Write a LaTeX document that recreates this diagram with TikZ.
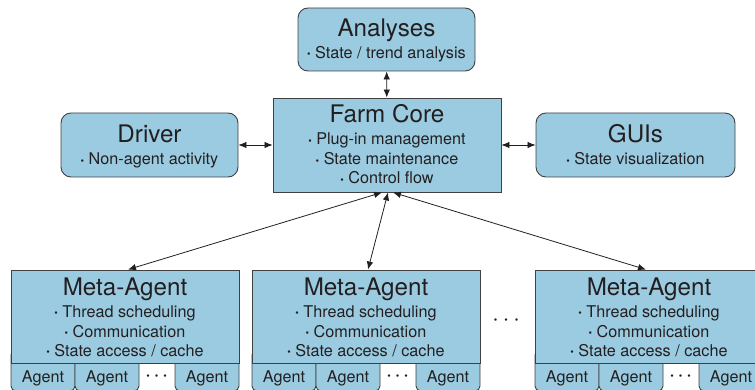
\documentclass[tikz,border=0pt]{standalone}
\usepackage{fontspec}
\setmainfont{TeX Gyre Heros}
\usetikzlibrary{arrows.meta}

\definecolor{boxfill}{RGB}{155,203,225}
\definecolor{boxline}{RGB}{64,64,64}
\definecolor{ink}{RGB}{35,31,32}

% small round bullet used in the lists and in the ellipses
\newcommand{\dotmark}{{\fontsize{10}{10}\selectfont\raisebox{0.9pt}{•}}}

\tikzset{
  box/.style={draw=boxline, fill=boxfill, line width=0.9pt, inner sep=0pt},
  roundbox/.style={box, rounded corners=10pt},
  title/.style={font=\fontsize{24.2}{24.2}\selectfont, text=ink, anchor=base, inner sep=0pt},
  item/.style={font=\fontsize{16.2}{16.2}\selectfont, text=ink, anchor=base, inner sep=0pt},
  link/.style={draw=ink, line width=0.8pt,
    {Latex[length=8pt,width=6.5pt]}-{Latex[length=8pt,width=6.5pt]}},
  tab/.style={box, rounded corners=5pt, minimum width=64pt, minimum height=41pt},
  gap/.style={font=\fontsize{16}{16}\selectfont, text=ink, inner sep=0pt},
  % one meta-agent: main box with a row of agent tabs below it
  metaagent/.pic={
    \node[tab] (-a1) at (32,100.5) {};
    \node[tab] (-a2) at (96,100.5) {};
    \node[tab] (-a4) at (196,100.5) {};
    \node[box, minimum width=228pt, minimum height=93pt] (-box) at (114,46.5) {};
    \node[title] (-t) at (114,25) {Meta-Agent};
    \node[item] (-i1) at (114,47) {\dotmark\ Thread scheduling};
    \node[item] (-i2) at (114,67) {\dotmark\ Communication};
    \node[item] (-i3) at (114,86) {\dotmark\ State access / cache};
    \node[item] (-n1) at (32,112) {Agent};
    \node[item] (-n2) at (96,112) {Agent};
    \node[gap]  (-g)  at (145.5,107.5) {\dotmark\hspace{5pt}\dotmark\hspace{5pt}\dotmark};
    \node[item] (-n4) at (196,112) {Agent};
  }
}

\begin{document}
\begin{tikzpicture}[x=1pt, y=-1pt]
  \useasboundingbox (0,0) rectangle (755,390);

  % top row
  \node[roundbox, minimum width=177pt, minimum height=63pt] (ana) at (386.5,39.5) {};
  \node[title] (ana-t) at (386.5,36.7) {Analyses};
  \node[item]  (ana-1) at (386.5,58.3) {\dotmark\ State / trend analysis};

  % farm core
  \node[box, minimum width=228pt, minimum height=94pt] (core) at (387,145) {};
  \node[title] (core-t) at (387,122.7) {Farm Core};
  \node[item]  (core-1) at (387,145) {\dotmark\ Plug-in management};
  \node[item]  (core-2) at (387,165) {\dotmark\ State maintenance};
  \node[item]  (core-3) at (387,184) {\dotmark\ Control flow};

  % driver and GUIs
  \node[roundbox, minimum width=177pt, minimum height=64pt] (driver) at (149.5,145) {};
  \node[title] (driver-t) at (149.5,142.7) {Driver};
  \node[item]  (driver-1) at (149.5,165) {\dotmark\ Non-agent activity};

  \node[roundbox, minimum width=199pt, minimum height=64pt] (gui) at (635.5,145) {};
  \node[title] (gui-t) at (635.5,142.7) {GUIs};
  \node[item]  (gui-1) at (635.5,165) {\dotmark\ State visualization};

  % meta-agents
  \pic (ma1) at (11,270) {metaagent};
  \pic (ma2) at (252,270) {metaagent};
  \pic (ma3) at (535,270) {metaagent};
  \node[gap] (more) at (506,322) {\dotmark\hspace{7pt}\dotmark\hspace{7pt}\dotmark};

  % connectors
  \draw[link] (ana) -- (core);
  \draw[link] (driver) -- (core);
  \draw[link] (core) -- (gui);
  \draw[link] ([xshift=-5pt]core.south) -- ([xshift=3pt]ma1-box.north);
  \draw[link] ([xshift=1pt]core.south) -- ([xshift=2pt]ma2-box.north);
  \draw[link] ([xshift=6pt]core.south) -- ([xshift=-3pt]ma3-box.north);
\end{tikzpicture}
\end{document}
